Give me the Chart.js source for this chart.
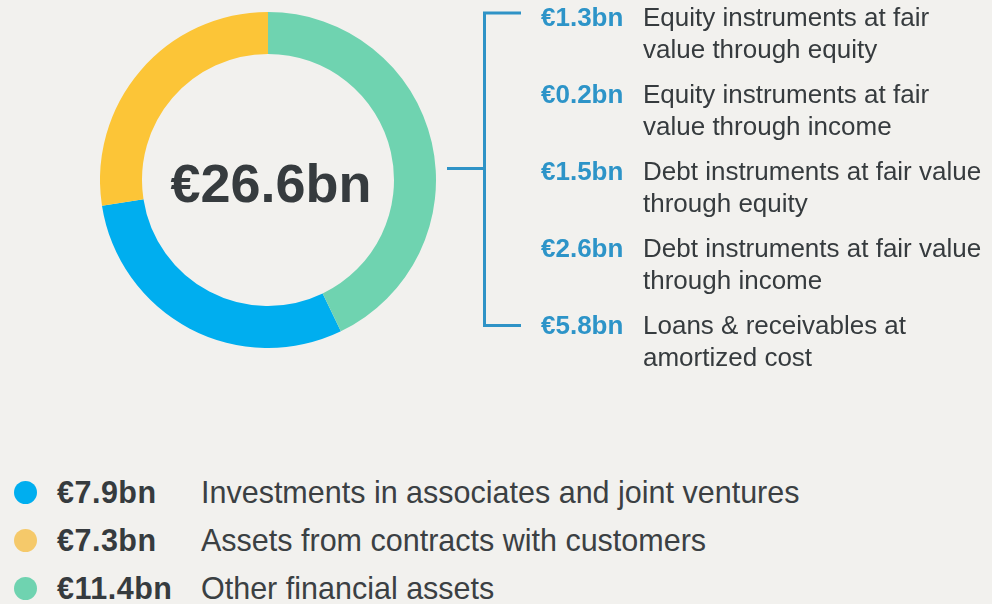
<!DOCTYPE html>
<html>
<head>
<meta charset="utf-8">
<script src="https://cdn.jsdelivr.net/npm/chart.js@4"></script>
<style>
  html, body { margin: 0; padding: 0; }
  body {
    width: 992px; height: 604px; overflow: hidden; position: relative;
    background: #f2f1ee; font-family: "Liberation Sans", Arial, sans-serif; color: #363b3e;
  }
  #donutWrap { position: absolute; left: 100px; top: 12px; width: 336px; height: 336px; }
  #bracket { position: absolute; left: 0; top: 0; }
  #breakdown { position: absolute; left: 541px; top: 1px; display: flex; flex-direction: column; gap: 13px; }
  .part { display: flex; font-size: 26px; line-height: 32px; }
  .part .amt { width: 102px; font-weight: bold; color: #2d94c8; white-space: nowrap; }
  .part .txt { width: 346px; }
  #legend { position: absolute; left: 0; top: 468px; }
  .row { position: relative; height: 48px; line-height: 48px; font-size: 30.5px; white-space: nowrap; }
  .row .dot { position: absolute; left: 14px; top: 13px; width: 23px; height: 23px; border-radius: 50%; }
  .row .amt { position: absolute; left: 57px; font-weight: bold; letter-spacing: 0.5px; }
  .row .txt { position: absolute; left: 201px; color: #3b4043; }
</style>
</head>
<body>
<div id="donutWrap"><canvas id="donut"></canvas></div>
<canvas id="bracket" width="560" height="360"></canvas>
<div id="breakdown"></div>
<div id="legend"></div>
<script>
// asset split, in € bn
const categories = ["Investments in associates and joint ventures", "Assets from contracts with customers", "Other financial assets"];
const values = [7.9, 7.3, 11.4];
const ringColors = ["#00aeef", "#fcc537", "#6fd3b0"];
const dotColors = ["#00aeef", "#f5c96a", "#6fd3b0"];

// breakdown of "Other financial assets"
const otherLabels = [
  "Equity instruments at fair value through equity",
  "Equity instruments at fair value through income",
  "Debt instruments at fair value through equity",
  "Debt instruments at fair value through income",
  "Loans & receivables at amortized cost"
];
const otherValues = [1.3, 0.2, 1.5, 2.6, 5.8];

const fmt = v => "€" + v.toFixed(1) + "bn";
const total = values.reduce((a, b) => a + b, 0);

// total in the middle of the ring
const centerText = {
  id: "centerText",
  afterDraw(chart) {
    const meta = chart.getDatasetMeta(0).data[0];
    const ctx = chart.ctx;
    ctx.save();
    ctx.font = "bold 54px 'Liberation Sans', Arial, sans-serif";
    ctx.fillStyle = "#363b3e";
    ctx.textAlign = "center";
    ctx.textBaseline = "alphabetic";
    ctx.fillText(fmt(total), meta.x + 3, meta.y + 22);
    ctx.restore();
  }
};

new Chart(document.getElementById("donut"), {
  type: "doughnut",
  data: {
    labels: categories,
    datasets: [{ data: values, backgroundColor: ringColors, borderWidth: 0, hoverOffset: 0 }]
  },
  options: {
    responsive: true,
    maintainAspectRatio: false,
    animation: false,
    cutout: "75%",
    // the last slice starts at twelve o'clock
    rotation: 360 * values[2] / total,
    layout: { padding: 0 },
    plugins: { legend: { display: false }, tooltip: { enabled: false } }
  },
  plugins: [centerText]
});

// bracket tying the green slice to its breakdown
const b = document.getElementById("bracket").getContext("2d");
b.strokeStyle = "#2f93c6";
b.lineWidth = 3;
b.beginPath();
b.moveTo(521, 13); b.lineTo(484.5, 13); b.lineTo(484.5, 325.5); b.lineTo(521, 325.5);
b.moveTo(447, 168.5); b.lineTo(484.5, 168.5);
b.stroke();

const breakdown = document.getElementById("breakdown");
otherLabels.forEach((label, i) => {
  const el = document.createElement("div");
  el.className = "part";
  el.innerHTML = `<span class="amt">${fmt(otherValues[i])}</span><span class="txt">${label}</span>`;
  breakdown.appendChild(el);
});

const legend = document.getElementById("legend");
categories.forEach((label, i) => {
  const el = document.createElement("div");
  el.className = "row";
  el.innerHTML = `<span class="dot" style="background:${dotColors[i]}"></span><span class="amt">${fmt(values[i])}</span><span class="txt">${label}</span>`;
  legend.appendChild(el);
});
</script>
</body>
</html>
